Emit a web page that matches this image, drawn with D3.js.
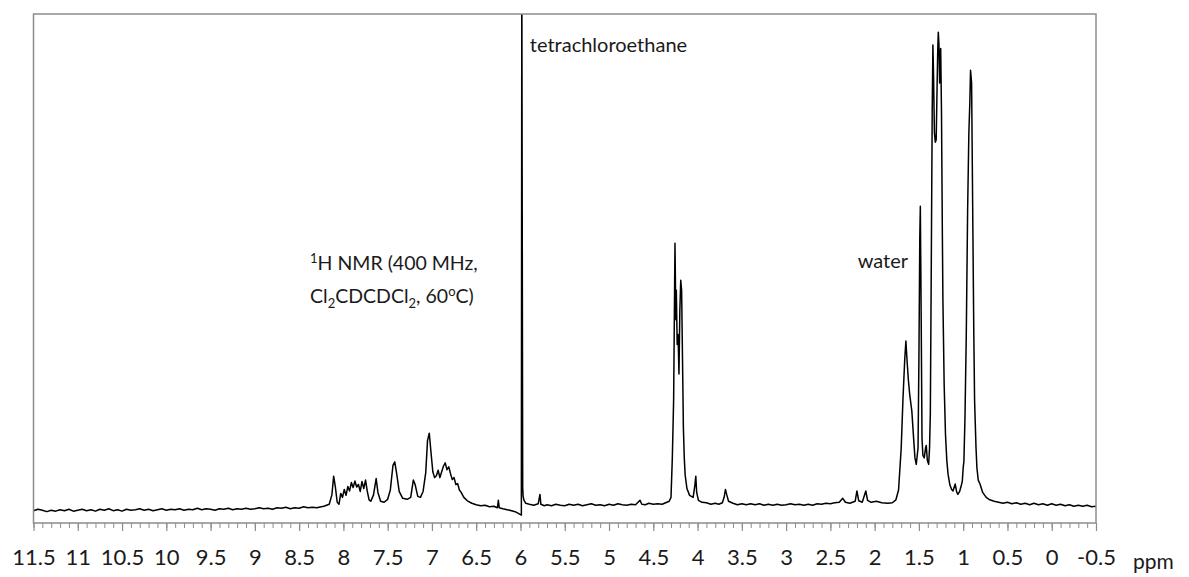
<!DOCTYPE html>
<html>
<head>
<meta charset="utf-8">
<script src="https://cdn.jsdelivr.net/npm/d3@7"></script>
<style>
  body { margin: 0; background: #fff; }
  text { font-family: Lato, "Open Sans", sans-serif; fill: #1a1a1a; }
</style>
</head>
<body>
<svg id="chart" width="1189" height="577"></svg>
<script>
// ppm axis labels
const majorTicks = [11.5, 11, 10.5, 10, 9.5, 9, 8.5, 8, 7.5, 7, 6.5, 6, 5.5, 5, 4.5, 4, 3.5, 3, 2.5, 2, 1.5, 1, 0.5, 0, -0.5];

// spectrum, [ppm, intensity in % of plot height]
const flatLeft = [
  [11.5, -0.7], [11.45, -0.4], [11.4, -0.6], [11.35, -0.9], [11.3, -0.6], [11.25, -0.8],
  [11.2, -0.5], [11.15, -0.7], [11.1, -0.4], [11.05, -0.8], [11.0, -0.6], [10.95, -0.4],
  [10.9, -0.7], [10.85, -0.5], [10.8, -0.8], [10.75, -0.4], [10.7, -0.6], [10.65, -0.3],
  [10.6, -0.7], [10.55, -0.5], [10.5, -0.8], [10.45, -0.4], [10.4, -0.6], [10.35, -0.5],
  [10.3, -0.3], [10.25, -0.6], [10.2, -0.4], [10.15, -0.7], [10.1, -0.5], [10.05, -0.3],
  [10.0, -0.6], [9.95, -0.4], [9.9, -0.5], [9.85, -0.3], [9.8, -0.6], [9.75, -0.4],
  [9.7, -0.5], [9.65, -0.2], [9.6, -0.5], [9.55, -0.3], [9.5, -0.4], [9.45, -0.6],
  [9.4, -0.3], [9.35, -0.4], [9.3, -0.2], [9.25, -0.5], [9.2, -0.3], [9.15, -0.4],
  [9.1, -0.2], [9.05, -0.4], [9.0, -0.3], [8.95, -0.1], [8.9, -0.3], [8.85, -0.2],
  [8.8, -0.4], [8.75, -0.1], [8.7, -0.2], [8.65, 0.0], [8.6, -0.3], [8.55, -0.1],
  [8.5, -0.2], [8.45, 0.1], [8.4, -0.1], [8.35, 0.0], [8.3, -0.1], [8.25, 0.1],
  [8.22, 0.2], [8.16, 0.6]
];
const aromatic = [
  [8.13, 2.5], [8.11, 6.3], [8.09, 4.0], [8.07, 1.0], [8.05, 0.6], [8.03, 2.8],
  [8.01, 2.0], [7.99, 3.6], [7.97, 2.4], [7.95, 4.2], [7.93, 3.3], [7.91, 5.0],
  [7.89, 4.0], [7.87, 5.3], [7.85, 4.1], [7.83, 4.6], [7.81, 3.2], [7.79, 5.2],
  [7.77, 3.8], [7.75, 5.5], [7.73, 3.2], [7.71, 1.5], [7.69, 1.2], [7.66, 2.5],
  [7.63, 5.8], [7.61, 3.0], [7.58, 1.2], [7.54, 1.0], [7.50, 1.6], [7.47, 3.5],
  [7.44, 8.5], [7.42, 9.2], [7.40, 7.0], [7.37, 3.2], [7.33, 1.8], [7.28, 1.6],
  [7.24, 2.0], [7.21, 5.5], [7.19, 4.6], [7.16, 2.2], [7.13, 2.0], [7.10, 3.2],
  [7.07, 7.0], [7.05, 13.5], [7.03, 15.0], [7.01, 11.0], [6.99, 7.2], [6.97, 6.0],
  [6.95, 6.4], [6.93, 7.5], [6.91, 6.0], [6.89, 7.2], [6.87, 8.3], [6.85, 9.0],
  [6.83, 7.6], [6.81, 8.2], [6.79, 6.8], [6.77, 5.6], [6.75, 6.0], [6.73, 4.6],
  [6.71, 4.8], [6.69, 3.5], [6.67, 3.0], [6.64, 2.0], [6.60, 1.3], [6.55, 0.8],
  [6.50, 0.5], [6.45, 0.3], [6.40, 0.4], [6.35, 0.1], [6.30, 0.2], [6.26, -0.1],
  [6.25, 1.4], [6.24, -0.1], [6.20, -0.3], [6.15, -0.5], [6.10, -0.7], [6.06, -0.9],
  [6.03, -1.2], [6.00, -1.5], [5.99, -1.6]
];
const solvent = [
  [5.985, 110], [5.975, 4.0], [5.97, 2.2], [5.96, 1.4], [5.94, 0.8], [5.90, 0.6],
  [5.85, 0.4], [5.80, 0.7], [5.78, 2.6], [5.77, 0.6], [5.73, 0.3], [5.70, 0.5],
  [5.65, 0.3], [5.60, 0.6], [5.55, 0.4], [5.50, 0.3], [5.45, 0.6], [5.40, 0.4],
  [5.35, 0.6], [5.30, 0.3], [5.25, 0.5], [5.20, 0.7], [5.15, 0.4], [5.10, 0.5],
  [5.05, 0.3], [5.00, 0.6], [4.95, 0.4], [4.90, 0.7], [4.85, 0.5], [4.80, 0.4],
  [4.75, 0.6], [4.70, 0.5], [4.65, 1.4], [4.63, 0.6], [4.59, 0.5], [4.55, 0.8],
  [4.50, 0.6], [4.45, 0.7], [4.40, 0.6], [4.36, 0.9], [4.32, 1.2]
];
const ester = [
  [4.30, 2.0], [4.285, 10], [4.27, 22], [4.255, 53.5], [4.245, 38], [4.24, 44],
  [4.23, 33], [4.22, 35], [4.21, 27], [4.20, 40], [4.19, 46], [4.18, 44],
  [4.17, 30], [4.16, 16], [4.15, 10], [4.14, 6.5], [4.12, 3.8], [4.09, 2.4],
  [4.05, 2.0], [4.03, 4.5], [4.02, 6.3], [4.01, 3.0], [3.99, 1.4], [3.95, 1.0],
  [3.90, 0.9], [3.85, 0.6], [3.80, 0.8], [3.76, 0.6], [3.72, 0.9], [3.70, 2.0],
  [3.685, 3.6], [3.67, 2.5], [3.65, 1.2], [3.60, 0.8], [3.55, 0.5], [3.50, 0.7],
  [3.45, 0.5], [3.40, 0.7], [3.35, 0.5], [3.30, 0.7], [3.25, 0.4], [3.20, 0.6],
  [3.15, 0.4], [3.10, 0.6], [3.05, 0.4], [3.00, 0.5], [2.95, 0.7], [2.90, 0.5],
  [2.85, 0.6], [2.80, 0.4], [2.75, 0.6], [2.70, 0.4], [2.65, 0.7], [2.60, 0.6],
  [2.55, 0.8], [2.50, 0.7], [2.45, 0.9], [2.40, 1.0], [2.36, 1.8], [2.33, 1.0],
  [2.28, 0.8], [2.22, 1.2], [2.20, 3.3], [2.18, 1.3], [2.14, 1.0], [2.10, 3.3],
  [2.08, 1.4], [2.04, 1.0], [1.98, 1.2], [1.92, 0.9], [1.85, 0.8], [1.80, 0.9]
];
const aliphatic = [
  [1.76, 1.5], [1.73, 3.5], [1.70, 12], [1.68, 22], [1.66, 30], [1.647, 33.7],
  [1.635, 30], [1.62, 26], [1.605, 23], [1.58, 19.5], [1.56, 14], [1.545, 10],
  [1.53, 8.7], [1.51, 12], [1.50, 30], [1.49, 55], [1.484, 61], [1.475, 40],
  [1.465, 14], [1.455, 10.5], [1.44, 10], [1.425, 12], [1.417, 12.5], [1.405, 9.5],
  [1.39, 8.7], [1.38, 12], [1.371, 19], [1.36, 50], [1.35, 80], [1.342, 93.7],
  [1.335, 88], [1.325, 76], [1.315, 74], [1.305, 74.5], [1.295, 85], [1.287, 93],
  [1.281, 96.3], [1.274, 94], [1.266, 86], [1.26, 92], [1.254, 93], [1.245, 80],
  [1.235, 55], [1.229, 42], [1.215, 25], [1.20, 14.8], [1.185, 9.5], [1.171, 6.7],
  [1.15, 4.5], [1.13, 3.6], [1.115, 3.3], [1.09, 4.7], [1.075, 3.2], [1.06, 2.6],
  [1.04, 3.2], [1.02, 4.5], [1.01, 5.3], [1.00, 8.0], [0.992, 9.3], [0.98, 18],
  [0.965, 35], [0.95, 60], [0.936, 75.8], [0.925, 82], [0.917, 88.6], [0.905, 86],
  [0.89, 55], [0.88, 35], [0.871, 21.5], [0.855, 12], [0.845, 8], [0.83, 5.5],
  [0.81, 4.7], [0.78, 3.0], [0.74, 2.0], [0.70, 1.5], [0.65, 1.2], [0.60, 1.0],
  [0.55, 0.8], [0.50, 1.0], [0.45, 0.7], [0.40, 0.9], [0.35, 0.6], [0.30, 0.8],
  [0.25, 0.5], [0.20, 0.8], [0.15, 0.5], [0.10, 0.7], [0.05, 0.4], [0.00, 0.7],
  [-0.05, 0.4], [-0.10, 0.6], [-0.15, 0.3], [-0.20, 0.5], [-0.25, 0.2], [-0.30, 0.4],
  [-0.35, 0.2], [-0.40, 0.4], [-0.45, 0.1], [-0.50, 0.2]
];

const spectrum = flatLeft.concat(aromatic, solvent, ester, aliphatic);

const plot_left = 33.5, plot_right = 1096, plot_top = 14, plot_bottom = 523;

const svg = d3.select("#chart");

let x = d3.scaleLinear()
  .domain([11.5, -0.5])
  .range([plot_left, plot_right]);
let y = d3.scaleLinear()
  .domain([-3.2, 100])
  .range([plot_bottom, plot_top]);

svg.append("defs").append("clipPath")
  .attr("id", "plotclip")
  .append("rect")
    .attr("x", plot_left).attr("y", plot_top)
    .attr("width", plot_right - plot_left).attr("height", plot_bottom - plot_top);

// the trace
let line = d3.line()
  .x(function (d) { return x(d[0]); })
  .y(function (d) { return y(d[1]); });

svg.append("path")
  .datum(spectrum)
  .attr("clip-path", "url(#plotclip)")
  .attr("d", line)
  .attr("fill", "none")
  .attr("stroke", "#000")
  .attr("stroke-width", 1.5)
  .attr("stroke-linejoin", "round");

// frame
svg.append("rect")
  .attr("x", plot_left).attr("y", plot_top)
  .attr("width", plot_right - plot_left).attr("height", plot_bottom - plot_top)
  .attr("fill", "none")
  .attr("stroke", "#8c8c8c")
  .attr("stroke-width", 1.5);

// minor ticks every 0.1 ppm
let minorTicks = d3.range(0, 121).map(function (i) { return Math.round((11.5 - i * 0.1) * 10) / 10; });
let minorAxis = d3.axisBottom(x)
  .tickValues(minorTicks)
  .tickSize(5)
  .tickFormat("");
let gMinor = svg.append("g")
  .attr("transform", "translate(0," + plot_bottom + ")")
  .call(minorAxis);
gMinor.select(".domain").remove();
gMinor.selectAll("line").attr("stroke", "#8c8c8c").attr("stroke-width", 1);

// major ticks + labels
let majorAxis = d3.axisBottom(x)
  .tickValues(majorTicks)
  .tickSize(8)
  .tickPadding(18)
  .tickFormat(function (d) { return String(d); });
let gMajor = svg.append("g")
  .attr("transform", "translate(0," + plot_bottom + ")")
  .call(majorAxis);
gMajor.select(".domain").remove();
gMajor.selectAll("line").attr("stroke", "#8c8c8c").attr("stroke-width", 1.2);
gMajor.selectAll("text")
  .attr("font-size", 22)
  .attr("font-family", "Lato, 'Open Sans', sans-serif")
  .attr("fill", "#1a1a1a");

svg.append("text")
  .attr("x", 1133).attr("y", 569)
  .attr("font-size", 21)
  .text("ppm");

// annotations
svg.append("text")
  .attr("x", x(5.985) + 8).attr("y", 52)
  .attr("font-size", 20)
  .text("tetrachloroethane");

svg.append("text")
  .attr("x", 908).attr("y", 268)
  .attr("text-anchor", "end")
  .attr("font-size", 20)
  .text("water");

let nmr = svg.append("text")
  .attr("x", 310).attr("y", 270)
  .attr("font-size", 19.5);
nmr.append("tspan").attr("font-size", 13).attr("dy", -7).text("1");
nmr.append("tspan").attr("dy", 7).text("H NMR (400 MHz,");

let cond = svg.append("text")
  .attr("x", 310).attr("y", 303)
  .attr("font-size", 19.5);
cond.append("tspan").text("Cl");
cond.append("tspan").attr("font-size", 13).attr("dy", 5).text("2");
cond.append("tspan").attr("dy", -5).text("CDCDCl");
cond.append("tspan").attr("font-size", 13).attr("dy", 5).text("2");
cond.append("tspan").attr("dy", -5).text(", 60");
cond.append("tspan").attr("font-size", 13).attr("dy", -7).text("o");
cond.append("tspan").attr("dy", 7).text("C)");
</script>
</body>
</html>
